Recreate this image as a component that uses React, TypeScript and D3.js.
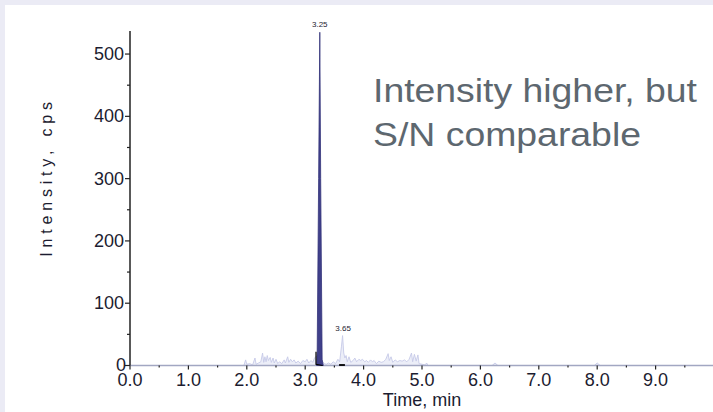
import React from "react";
import * as d3 from "d3";

const W = 713;
const H = 412;

// Chromatogram noise trace (time, min / intensity, cps)
const traceTimes = [0, 1.9, 1.95, 1.98, 2.0, 2.05, 2.1, 2.14, 2.16, 2.2, 2.24, 2.27, 2.29, 2.31, 2.33, 2.35, 2.37, 2.4, 2.42, 2.45, 2.47, 2.5, 2.53, 2.56, 2.6, 2.64, 2.66, 2.7, 2.72, 2.75, 2.78, 2.81, 2.84, 2.88, 2.92, 2.96, 3.0, 3.03, 3.06, 3.1, 3.13, 3.16, 3.19, 3.31, 3.33, 3.36, 3.4, 3.44, 3.48, 3.52, 3.56, 3.59, 3.62, 3.64, 3.66, 3.68, 3.7, 3.72, 3.75, 3.78, 3.82, 3.85, 3.88, 3.92, 3.95, 3.98, 4.02, 4.05, 4.08, 4.12, 4.15, 4.18, 4.22, 4.26, 4.3, 4.34, 4.38, 4.42, 4.44, 4.47, 4.5, 4.54, 4.58, 4.62, 4.66, 4.7, 4.74, 4.78, 4.82, 4.84, 4.87, 4.9, 4.93, 4.95, 5.0, 5.05, 5.08, 5.1, 6.2, 6.25, 6.3, 7.95, 8.0, 8.05, 10.0];
const traceValues = [0, 0, 0, 9, 2, 3, 1, 12, 2, 4, 6, 20, 5, 14, 6, 16, 8, 13, 5, 12, 4, 10, 3, 6, 3, 9, 4, 14, 5, 10, 6, 9, 4, 7, 3, 8, 6, 10, 4, 8, 5, 12, 15, 5, 3, 2, 4, 2, 6, 3, 10, 6, 30, 48, 20, 12, 16, 6, 14, 5, 8, 12, 6, 10, 8, 10, 6, 8, 5, 9, 6, 8, 3, 7, 5, 6, 10, 19, 8, 14, 5, 9, 6, 8, 7, 9, 6, 10, 20, 6, 18, 7, 17, 3, 2, 1, 4, 0, 0, 4, 0, 0, 4, 0, 0];

// Integrated main peak
const peakTimes = [3.195, 3.205, 3.23, 3.25, 3.265, 3.29, 3.31];
const peakValues = [0, 22, 300, 535, 300, 10, 0];

const peakLabels = ["3.25", "3.65"];
const peakLabelTimes = [3.25, 3.65];
const peakLabelValues = [535, 48];

const xTicks = [0, 1, 2, 3, 4, 5, 6, 7, 8, 9];
const xMinorTicks = [0.5, 1.5, 2.5, 3.5, 4.5, 5.5, 6.5, 7.5, 8.5, 9.5];
const yTicks = [0, 100, 200, 300, 400, 500];
const yMinorTicks = [50, 150, 250, 350, 450];

export default function App() {
  const x = d3.scaleLinear().domain([0, 10]).range([130, 714]);
  const y = d3.scaleLinear().domain([0, 537]).range([365.5, 31]);

  const trace = traceTimes.map((t, i) => [t, traceValues[i]] as [number, number]);
  const peak = peakTimes.map((t, i) => [t, peakValues[i]] as [number, number]);

  const area = d3
    .area<[number, number]>()
    .x((d) => x(d[0]))
    .y0(y(0))
    .y1((d) => y(d[1]));
  const line = d3
    .line<[number, number]>()
    .x((d) => x(d[0]))
    .y((d) => y(d[1]));

  const font = "'Liberation Sans', Arial, sans-serif";
  const tickColor = "#1c1c30";

  return (
    <svg
      width={W}
      height={H}
      style={{ position: "absolute", left: 0, top: 0 }}
    >
      <rect x={0} y={0} width={W} height={H} fill="#ebebf5" />
      <rect x={5} y={5} width={W - 5} height={H - 5} fill="#ffffff" />

      {/* noise trace */}
      <path d={area(trace) || ""} fill="#eceef8" stroke="none" />
      <path d={line(trace) || ""} fill="none" stroke="#c6c9e8" strokeWidth={0.9} />

      {/* x axis */}
      <line x1={x(0)} x2={W} y1={y(0)} y2={y(0)} stroke="#a2a7c2" strokeWidth={1.5} />
      {xTicks.map((t) => (
        <g key={"xt" + t}>
          <line x1={x(t)} x2={x(t)} y1={y(0)} y2={y(0) + 4} stroke="#222" strokeWidth={1.2} />
          <text
            x={x(t)}
            y={386}
            textAnchor="middle"
            fontFamily={font}
            fontSize={18}
            fill={tickColor}
          >
            {t.toFixed(1)}
          </text>
        </g>
      ))}
      {xMinorTicks.map((t) => (
        <line key={"xm" + t} x1={x(t)} x2={x(t)} y1={y(0)} y2={y(0) + 2} stroke="#222" strokeWidth={1.2} />
      ))}
      <text x={422} y={406} textAnchor="middle" fontFamily={font} fontSize={18} fill={tickColor}>
        Time, min
      </text>

      {/* main peak */}
      <path d={area(peak) || ""} fill="#40408a" stroke="#34347a" strokeWidth={0.8} />
      <path
        d={line([[3.185, 22], [3.185, 2], [3.3, 0]]) || ""}
        fill="none"
        stroke="#000"
        strokeWidth={1.2}
      />
      <path d={line([[3.58, 0.8], [3.68, 0.8]]) || ""} fill="none" stroke="#000" strokeWidth={1.8} />

      {/* y axis */}
      <line x1={x(0)} x2={x(0)} y1={y(537)} y2={y(0)} stroke="#222" strokeWidth={1.5} />
      {yTicks.map((v) => (
        <g key={"yt" + v}>
          <line x1={x(0) - 5} x2={x(0)} y1={y(v)} y2={y(v)} stroke="#222" strokeWidth={1.2} />
          <text
            x={v === 0 ? x(0) - 4 : x(0) - 6}
            y={v === 0 ? y(v) + 5 : y(v) + 6}
            textAnchor="end"
            fontFamily={font}
            fontSize={18}
            fill={tickColor}
          >
            {v}
          </text>
        </g>
      ))}
      {yMinorTicks.map((v) => (
        <line key={"ym" + v} x1={x(0) - 3} x2={x(0)} y1={y(v)} y2={y(v)} stroke="#222" strokeWidth={1.2} />
      ))}
      <text
        transform={`translate(52,177) rotate(-90)`}
        textAnchor="middle"
        fontFamily={font}
        fontSize={16}
        letterSpacing={4.8}
        fill={tickColor}
      >
        Intensity, cps
      </text>

      {/* peak labels */}
      {peakLabels.map((l, i) => (
        <text
          key={l}
          x={x(peakLabelTimes[i])}
          y={y(peakLabelValues[i]) - 5}
          textAnchor="middle"
          fontFamily={font}
          fontSize={8}
          fill={tickColor}
        >
          {l}
        </text>
      ))}

      {/* annotation */}
      <text fontFamily={font} fontSize={34} fill="#5d676f">
        <tspan x={373} y={102} textLength={324} lengthAdjust="spacingAndGlyphs">
          Intensity higher, but
        </tspan>
        <tspan x={373} y={146} textLength={268} lengthAdjust="spacingAndGlyphs">
          S/N comparable
        </tspan>
      </text>
    </svg>
  );
}
